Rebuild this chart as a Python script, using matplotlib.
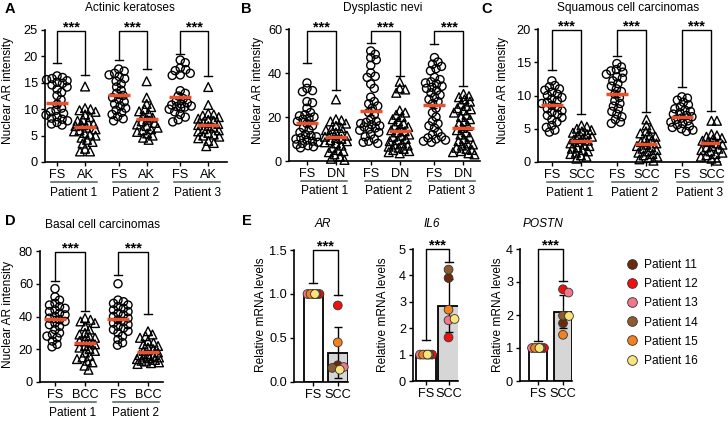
import numpy as np
import matplotlib
matplotlib.use('Agg')
import matplotlib.pyplot as plt
from matplotlib.lines import Line2D

plt.rcParams['font.family'] = ['Liberation Sans', 'DejaVu Sans']
plt.rcParams['font.size'] = 8.6

# ---------------- data ----------------
# A: Actinic keratoses
A_p1_fs = [16.3, 16.0, 15.8, 15.6, 15.4, 15.1, 14.9, 14.6, 14.2, 13.8, 13.2, 12.6, 11.8, 10.9,
           10.2, 9.8, 9.5, 9.2, 8.9, 8.6, 8.3, 8.1, 7.8, 7.5, 7.2, 7.0]
A_p1_ak = [14.3, 10.2, 10.0, 9.8, 9.5, 9.0, 8.5, 8.0, 7.8, 7.5, 7.2, 7.0, 6.8, 6.5, 6.2, 6.0,
           5.8, 5.5, 5.2, 5.0, 4.6, 4.2, 3.8, 3.5, 2.5, 2.0, 2.0]
A_p2_fs = [17.6, 17.2, 16.8, 16.5, 16.2, 15.8, 15.3, 14.8, 14.2, 13.6, 13.0, 12.6, 12.2, 11.8,
           11.4, 11.0, 10.6, 10.2, 9.8, 9.4, 9.0, 8.6, 8.2, 7.8]
A_p2_ak = [15.3, 12.2, 11.0, 10.4, 10.0, 9.6, 9.2, 8.8, 8.4, 8.0, 7.7, 7.4, 7.1, 6.8, 6.5, 6.2,
           6.0, 5.7, 5.4, 5.0, 4.6, 4.2]
A_p3_fs = [19.3, 18.8, 17.8, 17.5, 17.3, 16.8, 16.5, 16.4, 13.5, 13.0, 12.5, 12.0, 11.5, 11.2,
           11.0, 10.8, 10.6, 10.5, 10.4, 10.2, 10.0, 9.5, 9.0, 8.5, 8.0, 7.6]
A_p3_ak = [14.2, 10.8, 9.2, 9.0, 8.8, 8.5, 8.2, 8.0, 7.8, 7.5, 7.2, 7.0, 6.8, 6.5, 6.2, 6.0,
           5.8, 5.5, 5.2, 5.0, 4.8, 4.5, 4.0, 3.6, 3.0]
A_mean = [11.2, 6.7, 12.7, 8.2, 12.4, 7.0]
A_sem = [0.6, 0.5, 0.5, 0.5, 0.7, 0.4]
A_legs = [(18.7, 16.5), (19.3, 17.6), (20.5, 16.3)]
A_labels = ['FS', 'AK', 'FS', 'AK', 'FS', 'AK']

# B: Dysplastic nevi
B_p1_fs = [35.5, 33, 32, 31.5, 27, 26.5, 24, 22, 21, 20.5, 20, 19.5, 19, 18, 17, 16, 15, 14,
           13, 12, 11.5, 11, 10.5, 10, 9.5, 9, 8.5, 8, 7.5, 7, 6.5, 6]
B_p1_dn = [28, 19, 18.5, 18, 17, 16, 15, 14.5, 14, 13, 12.5, 12, 11.5, 11, 10.5, 10, 9.5, 9,
           8.5, 8, 7, 6, 5, 4.5, 4, 3, 2, 1, 0.5]
B_p2_fs = [50, 48.5, 47, 46, 43.5, 40, 38.5, 38, 35, 33, 29, 27, 26, 25, 24, 22, 21, 19, 18,
           17.5, 17, 16.5, 16, 15.5, 15, 14.5, 14, 13, 12, 11, 10, 9, 8.5, 8]
B_p2_dn = [36, 33, 32.5, 31, 23, 22, 21, 20, 19, 18, 17, 16, 15.5, 15, 14, 13.5, 13, 12, 11.5,
           11, 10, 9.5, 9, 8, 7.5, 7, 6.5, 6, 5.5, 5, 4.5, 4, 3.5]
B_p3_fs = [47, 45, 44, 43, 42, 41, 38, 37, 36, 35.5, 35, 34, 33.5, 33, 32, 31, 30, 29, 28, 27,
           26, 24, 22, 20, 18, 17, 16, 15, 13, 12, 11, 10.5, 10, 9.5, 9, 8.5]
B_p3_dn = [30.5, 29.5, 29, 28, 27, 26, 25, 24, 23.5, 23, 22, 21, 20, 19, 18, 17, 16, 15, 14,
           13, 12, 11, 10, 9, 8, 7.5, 7, 6, 5.5, 5, 4.5, 4, 3.5, 3]
B_mean = [17.3, 11.0, 22.8, 13.7, 25.5, 15.2]
B_sem = [1.3, 1.0, 1.8, 1.2, 1.6, 1.1]
B_legs = [(44.5, 32.5), (53.5, 38.8), (53.0, 34.0)]
B_labels = ['FS', 'DN', 'FS', 'DN', 'FS', 'DN']

# C: Squamous cell carcinomas
C_p1_fs = [12.2, 11.5, 11.3, 11.0, 10.8, 10.5, 10.2, 10.0, 9.7, 9.5, 9.2, 9.0, 8.8, 8.5, 8.2,
           8.0, 7.7, 7.5, 7.2, 7.0, 6.7, 6.4, 6.0, 5.5, 5.2, 4.8, 4.5]
C_p1_scc = [5.5, 5.3, 5.0, 4.8, 4.6, 4.4, 4.2, 4.0, 3.8, 3.6, 3.4, 3.2, 3.0, 2.8, 2.6, 2.4,
            2.2, 2.0, 1.8, 1.6, 1.4, 1.2, 1.0, 0.8, 0.5]
C_p2_fs = [14.8, 14.3, 13.9, 13.7, 13.5, 13.2, 12.8, 12.6, 12.2, 11.8, 11.4, 11.0, 10.6, 10.2,
           9.7, 9.2, 8.8, 8.4, 8.0, 7.6, 7.2, 6.8, 6.4, 6.0, 5.8]
C_p2_scc = [6.4, 5.5, 5.0, 4.6, 4.3, 4.0, 3.8, 3.5, 3.2, 3.0, 2.8, 2.6, 2.4, 2.2, 2.0, 1.8,
            1.6, 1.4, 1.2, 1.0, 0.8, 0.6, 0.4, 0.2]
C_p3_fs = [9.8, 9.6, 9.3, 9.0, 8.6, 8.3, 8.0, 7.8, 7.6, 7.4, 7.2, 7.0, 6.8, 6.6, 6.4, 6.2,
           6.0, 5.8, 5.6, 5.4, 5.2, 5.0, 4.8, 4.6]
C_p3_scc = [6.2, 6.2, 4.2, 4.0, 3.8, 3.6, 3.4, 3.2, 3.0, 2.8, 2.6, 2.4, 2.2, 2.0, 1.8, 1.6,
            1.4, 1.2, 1.0, 0.8, 0.5, 0.2]
C_mean = [8.6, 3.1, 10.2, 2.7, 6.8, 2.8]
C_sem = [0.4, 0.3, 0.5, 0.3, 0.3, 0.3]
C_legs = [(13.8, 7.2), (16.0, 7.5), (11.3, 7.7)]
C_labels = ['FS', 'SCC', 'FS', 'SCC', 'FS', 'SCC']

# D: Basal cell carcinomas
D_p1_fs = [57, 52, 50, 48, 47, 46, 45, 44, 43, 42, 41, 40, 39, 38, 37, 36, 35, 34, 32, 30, 29,
           28, 27, 25, 23, 21.5]
D_p1_bcc = [39, 38, 37, 36, 34, 32, 30, 29, 28, 27, 26, 25, 24, 23, 22, 21, 20, 19, 18, 16, 15,
            14, 13, 12, 10, 7.5]
D_p2_fs = [60, 50, 49, 48, 47, 46, 45, 44, 43, 42, 41, 40, 39, 38, 37, 36, 35, 34, 33, 32, 31,
           30, 28, 26, 24, 22.5]
D_p2_bcc = [31, 29, 28, 27, 25, 24, 23, 22, 21, 20, 19, 18, 17, 16.5, 16, 15.5, 15, 14.5, 14,
            13.5, 13, 12.5, 12, 11.5, 11]
D_mean = [38.5, 24.0, 38.5, 18.5]
D_sem = [1.6, 1.5, 1.5, 1.0]
D_legs = [(61.5, 43.5), (65.5, 41.5)]
D_labels = ['FS', 'BCC', 'FS', 'BCC']

# E: qPCR, patients 11-16
E_patients = ['Patient 11', 'Patient 12', 'Patient 13', 'Patient 14', 'Patient 15', 'Patient 16']
E_colors = ['#6B2A0C', '#F01010', '#F0788A', '#8E5B2E', '#F2821E', '#FBE37C']
E_ar_fs = [1.00, 1.00, 1.00, 1.00, 1.00, 1.00]
E_ar_scc = [0.19, 0.87, 0.17, 0.16, 0.45, 0.14]
E_il6_fs = [1.00, 1.00, 1.00, 1.00, 1.00, 1.00]
E_il6_scc = [3.90, 1.65, 2.30, 4.22, 2.70, 2.35]
E_postn_fs = [1.00, 1.00, 1.00, 1.00, 1.00, 1.00]
E_postn_scc = [1.75, 2.78, 2.68, 1.98, 1.40, 1.97]
E_sd = {'AR': 0.29, 'IL6': 1.0, 'POSTN': 0.5}

W, H = 728, 421
fig = plt.figure(figsize=(W / 100, H / 100), dpi=100)
RED = '#E8502E'
TICK_FS = 9.2


def box(l, t, r, b):
    return fig.add_axes([l / W, 1 - b / H, (r - l) / W, (b - t) / H])


def ftext(x, y, s, **kw):
    fig.text(x / W, 1 - y / H, s, **kw)


def swarm(ax, xc, vals, diam=5.0, half=10.0):
    pts = ax.transData.transform(np.column_stack([np.full(len(vals), xc), vals]))
    steps = np.arange(0.5, half + 0.01, 0.5)
    cand = [0.0] + [s * sg for s in steps for sg in (1, -1)]
    placed = []
    xs = []
    for x0, y0 in pts:
        best, bestd = 0.0, -1
        for c in cand:
            d = min([np.hypot(x0 + c - px, y0 - py) for px, py in placed] or [99])
            if d >= diam:
                best = c
                break
            if d > bestd:
                best, bestd = c, d
        placed.append((x0 + best, y0))
        xs.append(x0 + best)
    back = ax.transData.inverted().transform(np.column_stack([xs, pts[:, 1]]))
    return back[:, 0]


def style(ax, ylim, yticks):
    ax.set_ylim(ylim)
    ax.set_yticks(yticks)
    for s in ['top', 'right']:
        ax.spines[s].set_visible(False)
    for s in ['left', 'bottom']:
        ax.spines[s].set_linewidth(1.2)
    ax.tick_params(length=3, width=1.0, labelsize=TICK_FS, pad=2)


def bracket(ax, x0, x1, l0, l1, top, capw):
    kw = dict(color='black', lw=1.0, clip_on=False, zorder=6)
    ax.plot([x0, x0, x1, x1], [l0, top, top, l1], **kw)
    ax.plot([x0 - capw, x0 + capw], [l0, l0], **kw)
    ax.plot([x1 - capw, x1 + capw], [l1, l1], **kw)
    ax.annotate('***', xy=((x0 + x1) / 2, top), xytext=(0, -2.5), textcoords='offset points',
                ha='center', va='bottom', fontsize=10.5, fontweight='bold',
                annotation_clip=False)


def dot_panel(px, pos, xlim, groups, means, sems, legs, top, ylim, yticks, labels, patients):
    l, t, r, b = px
    ax = box(l, t, r, b)
    ax.set_xlim(xlim)
    style(ax, ylim, yticks)
    ppu = (r - l) / (xlim[1] - xlim[0])
    hpx = b - t
    for i, vals in enumerate(groups):
        xs = swarm(ax, pos[i], vals, diam=5.5, half=11.0)
        m = 'o' if i % 2 == 0 else '^'
        ax.scatter(xs, vals, marker=m, s=34 if m == 'o' else 40, facecolors='none',
                   edgecolors='black', linewidths=1.0, zorder=3, clip_on=False)
        ax.errorbar(pos[i], means[i], yerr=sems[i], color='black', lw=1.0,
                    capsize=2.5, capthick=1.0, zorder=4)
        ax.plot([pos[i] - 11 / ppu, pos[i] + 11 / ppu], [means[i], means[i]], color=RED,
                lw=2.5, solid_capstyle='butt', zorder=5)
    ax.set_xticks(pos)
    ax.set_xticklabels(labels)
    trans = ax.get_xaxis_transform()
    for k, name in enumerate(patients):
        xa, xb = pos[2 * k], pos[2 * k + 1]
        mid = (xa + xb) / 2 + 3 / ppu
        ax.plot([mid - 23 / ppu, mid + 23 / ppu], [-20 / hpx, -20 / hpx], color='#4f5f5f',
                lw=1.1, transform=trans, clip_on=False)
        ax.text(mid, -30.5 / hpx, name, transform=trans, ha='center', va='center', fontsize=8.6)
        bracket(ax, xa, xb, legs[k][0], legs[k][1], top, 4 / ppu)
    return ax


pos6 = [0, 1, 2.2, 3.2, 4.4, 5.4]
pats3 = ['Patient 1', 'Patient 2', 'Patient 3']

dot_panel((45, 30, 227, 162), pos6, (-0.43, 6.07),
          [A_p1_fs, A_p1_ak, A_p2_fs, A_p2_ak, A_p3_fs, A_p3_ak],
          A_mean, A_sem, A_legs, 24.8, (0, 25), [0, 5, 10, 15, 20, 25], A_labels, pats3)
dot_panel((289, 29, 480, 161), pos6, (-0.62, 5.97),
          [B_p1_fs, B_p1_dn, B_p2_fs, B_p2_dn, B_p3_fs, B_p3_dn],
          B_mean, B_sem, B_legs, 59.3, (0, 60), [0, 20, 40, 60], B_labels, pats3)
dot_panel((538, 29, 720, 162), pos6, (-0.47, 5.69),
          [C_p1_fs, C_p1_scc, C_p2_fs, C_p2_scc, C_p3_fs, C_p3_scc],
          C_mean, C_sem, C_legs, 19.8, (0, 20), [0, 5, 10, 15, 20], C_labels, pats3)
dot_panel((40, 251, 163, 382), [0, 1, 2.1, 3.1], (-0.5, 3.6),
          [D_p1_fs, D_p1_bcc, D_p2_fs, D_p2_bcc],
          D_mean, D_sem, D_legs, 79.5, (0, 80), [0, 20, 40, 60, 80], D_labels,
          ['Patient 1', 'Patient 2'])


def bar_panel(px, xlim, width, fs, scc, sd, legs, top, ylim, yticks, fmt):
    l, t, r, b = px
    ax = box(l, t, r, b)
    ax.set_xlim(xlim)
    style(ax, ylim, yticks)
    ax.set_yticklabels([fmt.format(v) for v in yticks])
    ppu = (r - l) / (xlim[1] - xlim[0])
    ax.bar([0, 1], [np.mean(fs), np.mean(scc)], width=width, color=['white', '#D6D6D6'],
           edgecolor='black', linewidth=1.3, zorder=2)
    ax.errorbar([1], [np.mean(scc)], yerr=sd, color='black', lw=1.0, capsize=3,
                capthick=1.0, zorder=3)
    for xc, vals, half in [(0, fs, 6.0), (1, scc, 7.0)]:
        xs = swarm(ax, xc, vals, diam=6.0, half=half)
        ax.scatter(xs, vals, s=40, c=E_colors, edgecolors='#333333', linewidths=0.6,
                   zorder=4, clip_on=False)
    ax.set_xticks([0, 1])
    ax.set_xticklabels(['FS', 'SCC'])
    bracket(ax, 0, 1, legs[0], legs[1], top, 4 / ppu)
    return ax


bar_panel((294, 250, 348, 382), (-0.8, 1.42), 0.8, E_ar_fs, E_ar_scc, E_sd['AR'],
          (1.13, 0.99), 1.5, (0, 1.5), [0, 0.5, 1.0, 1.5], '{:.1f}')
bar_panel((413, 249, 458, 381), (-0.58, 1.42), 0.9, E_il6_fs, E_il6_scc, E_sd['IL6'],
          (1.55, 4.5), 5.0, (0, 5), [0, 1, 2, 3, 4, 5], '{:.0f}')
bar_panel((520, 249, 572, 381), (-0.72, 1.36), 0.72, E_postn_fs, E_postn_scc, E_sd['POSTN'],
          (1.22, 3.02), 4.0, (0, 4), [0, 1, 2, 3, 4], '{:.0f}')

# titles, panel letters, y labels
for x, y, s in [(5, 9, 'A'), (241, 9, 'B'), (481, 9, 'C'), (5, 221, 'D'), (242, 221, 'E')]:
    ftext(x, y, s, fontsize=10.5, fontweight='bold', ha='left', va='center')
ftext(130, 8, 'Actinic keratoses', ha='center', va='center')
ftext(383, 8, 'Dysplastic nevi', ha='center', va='center')
ftext(628, 8, 'Squamous cell carcinomas', ha='center', va='center')
ftext(45, 225, 'Basal cell carcinomas', ha='left', va='center')
ftext(323, 224, 'AR', ha='center', va='center', style='italic')
ftext(432, 224, 'IL6', ha='center', va='center', style='italic')
ftext(543, 224, 'POSTN', ha='center', va='center', style='italic')
for x, y in [(8, 90), (258, 90), (503, 90), (8, 314)]:
    ftext(x, y, 'Nuclear AR intensity', rotation=90, ha='center', va='center')
for x in [261, 383, 498]:
    ftext(x, 315, 'Relative mRNA levels', rotation=90, ha='center', va='center')

handles = [Line2D([], [], ls='', marker='o', markersize=7, markerfacecolor=c,
                  markeredgecolor='#333333', markeredgewidth=0.6) for c in E_colors]
fig.legend(handles, E_patients, loc='upper left', bbox_to_anchor=(626 / W, 1 - 259 / H),
           frameon=False, borderpad=0, borderaxespad=0, handlelength=1.0,
           handletextpad=0.5, labelspacing=0.6, fontsize=8.6)

fig.savefig('out.png', dpi=100)
